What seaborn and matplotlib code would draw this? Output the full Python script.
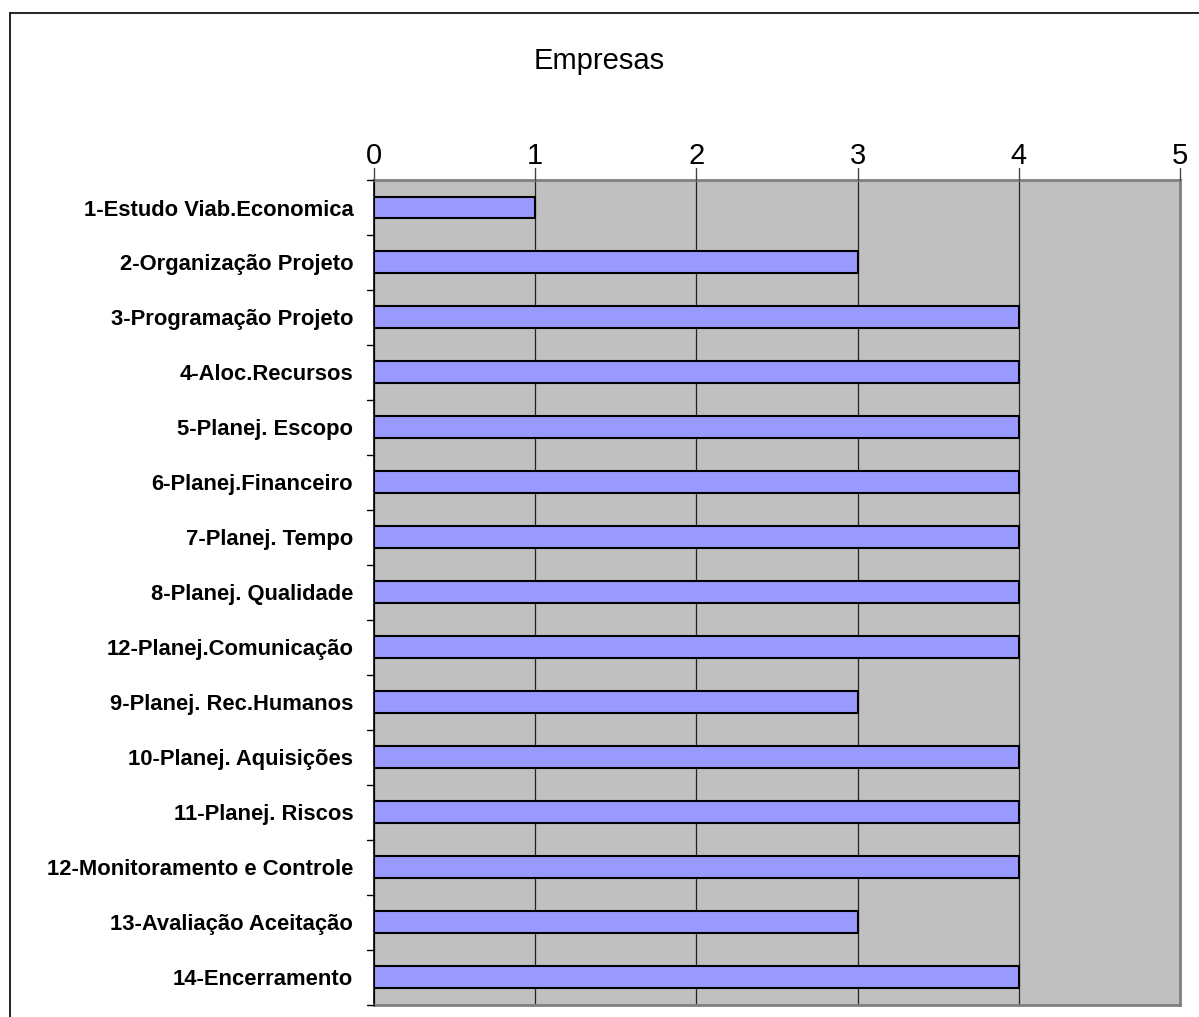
import matplotlib
matplotlib.use('Agg')
import matplotlib.pyplot as plt
import seaborn as sns
import pandas as pd
from matplotlib.lines import Line2D

etapas = ['1-Estudo Viab.Economica', '2-Organização Projeto', '3-Programação Projeto',
          '4-Aloc.Recursos', '5-Planej. Escopo', '6-Planej.Financeiro', '7-Planej. Tempo',
          '8-Planej. Qualidade', '12-Planej.Comunicação', '9-Planej. Rec.Humanos',
          '10-Planej. Aquisições', '11-Planej. Riscos', '12-Monitoramento e Controle',
          '13-Avaliação Aceitação', '14-Encerramento']
empresas = [1, 3, 4, 4, 4, 4, 4, 4, 4, 3, 4, 4, 4, 3, 4]

sns.set_style('white')
plt.rcParams['font.family'] = ['Liberation Sans', 'DejaVu Sans']
plt.rcParams['text.color'] = 'black'
plt.rcParams['xtick.color'] = 'black'
plt.rcParams['ytick.color'] = 'black'

df = pd.DataFrame({'etapa': etapas, 'empresas': empresas})

fig = plt.figure(figsize=(11.99, 10.17), dpi=100)
ax = fig.add_axes([0.312, 0.012, 0.672, 0.811])
ax.set_facecolor('#C0C0C0')

sns.barplot(data=df, x='empresas', y='etapa', orient='h', color='#9999FF',
            edgecolor='black', linewidth=1.5, width=0.4, saturation=1, ax=ax, zorder=3)

ax.set_xlim(0, 5)
ax.set_ylim(len(etapas) - 0.5, -0.5)
ax.set_xticks(range(6))
ax.xaxis.tick_top()
ax.tick_params(axis='x', labelsize=21, length=0, pad=7, labelcolor='black')
ax.grid(axis='x', color='#222222', linewidth=0.9, zorder=1)
ax.set_axisbelow(True)
ax.set_xlabel('')
ax.set_ylabel('')

# rotulos das etapas
ax.set_yticks(range(len(etapas)))
ax.set_yticklabels(etapas, fontsize=15.8, fontweight='bold', color='black')
ax.tick_params(axis='y', length=0, pad=15)
# marcas entre categorias
for k in range(len(etapas) + 1):
    ax.plot([-0.045, 0], [k - 0.5, k - 0.5], color='black', lw=1, clip_on=False, zorder=5)
for x in range(6):
    ax.plot([x, x], [-0.5, -0.72], color='#444444', lw=1, clip_on=False, zorder=5)

ax.spines['left'].set_color('black')
ax.spines['left'].set_linewidth(1.2)
for side in ['right', 'bottom', 'top']:
    ax.spines[side].set_color('#808080')
    ax.spines[side].set_linewidth(2)

fig.text(0.5, 0.94, 'Empresas', ha='center', va='center', fontsize=21)

# moldura da figura
fig.add_artist(Line2D([0.0085, 0.0085], [0, 0.987], color='black', lw=1.2))
fig.add_artist(Line2D([0.0085, 1], [0.987, 0.987], color='black', lw=1.2))

plt.savefig('out.png', dpi=100)
